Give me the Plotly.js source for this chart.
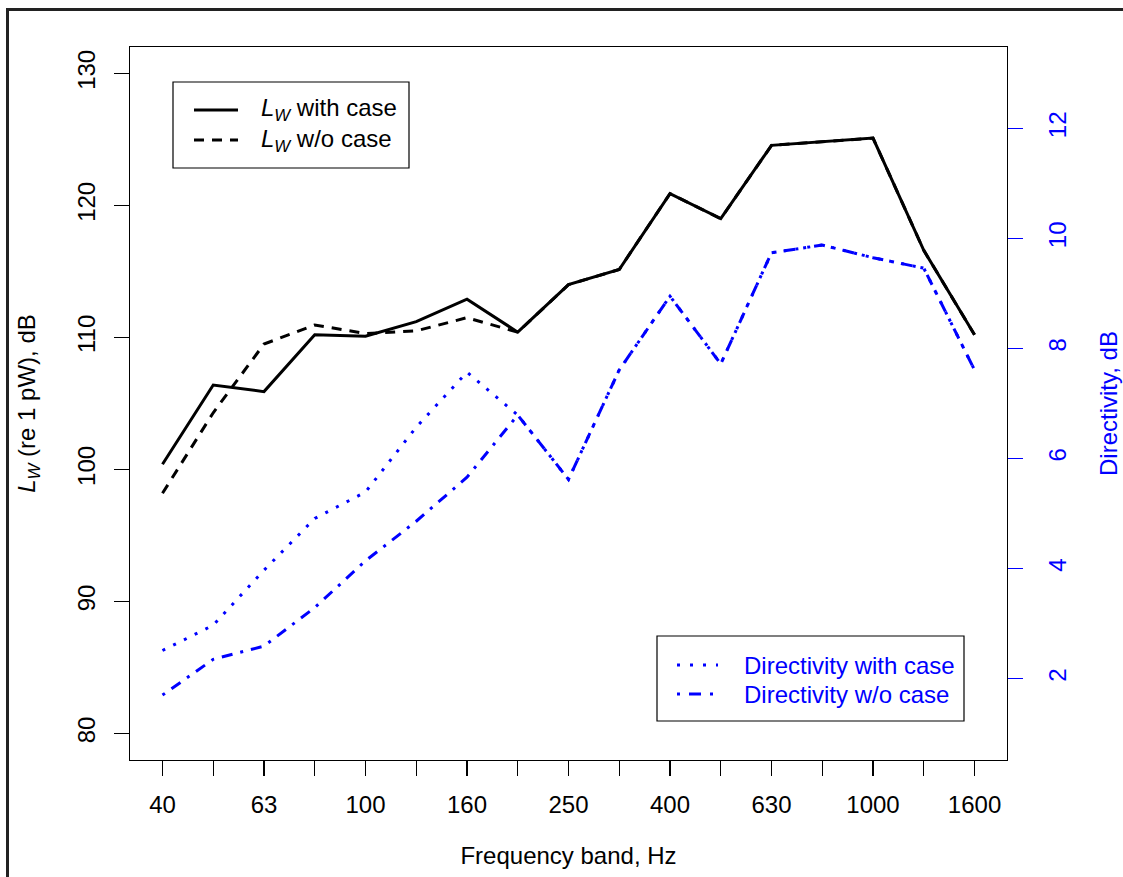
<!DOCTYPE html>
<html>
<head>
<meta charset="utf-8">
<script src="https://cdn.plot.ly/plotly-3.0.1.min.js"></script>
<style>
  html, body { margin: 0; padding: 0; background: #fff; }
  #wrap { position: relative; width: 1123px; height: 877px; overflow: hidden; }
  #chart { position: absolute; left: 0; top: 0; width: 1123px; height: 877px; }
  #frame { position: absolute; left: 6px; top: 8px; width: 1300px; height: 1000px;
           border-left: 3px solid #222; border-top: 3px solid #222; pointer-events: none; z-index: 5; }
</style>
</head>
<body>
<div id="wrap">
  <div id="chart"></div>
  <div id="frame"></div>
</div>
<script>
// ---- data ----
const bands = ["40","50","63","80","100","125","160","200","250","315","400","500","630","800","1000","1250","1600"];
const tickLabels = ["40","63","100","160","250","400","630","1000","1600"];
const lwWithCase = [100.4, 106.4, 105.9, 110.2, 110.1, 111.2, 112.9, 110.4, 114.0, 115.15, 120.9, 119.0, 124.55, 124.85, 125.1, 116.6, 110.2];
const lwWithoutCase = [98.2, 104.3, 109.5, 110.95, 110.3, 110.5, 111.5, 110.4, 114.0, 115.15, 120.9, 119.0, 124.55, 124.85, 125.1, 116.6, 110.2];
const dirWithCase = [2.51, 2.97, 3.97, 4.91, 5.39, 6.57, 7.57, 6.79, 5.62, 7.61, 8.95, 7.72, 9.74, 9.88, 9.65, 9.46, 7.61];
const dirWithoutCase = [1.70, 2.35, 2.59, 3.29, 4.14, 4.86, 5.66, 6.79, 5.62, 7.61, 8.95, 7.72, 9.74, 9.88, 9.65, 9.46, 7.61];
const lwTicks = [80, 90, 100, 110, 120, 130];
const dirTicks = [2, 4, 6, 8, 10, 12];
// bands that get a tick mark but no label
const unlabeledBands = bands.filter(b => !tickLabels.includes(b));

// ---- styles ----
const FONT = "Liberation Sans, Arial, Helvetica, sans-serif";
const BLUE = "#0000ff";
const DASH = "10px,8px";
const DOT = "3px,9px";
const DASHDOT = "3px,8px,11px,8px";

const traces = [
  { x: bands, y: lwWithCase, type: "scatter", mode: "lines", name: "L_W with case",
    line: { color: "#000", width: 3 }, xaxis: "x", yaxis: "y", showlegend: false },
  { x: bands, y: lwWithoutCase, type: "scatter", mode: "lines", name: "L_W w/o case",
    line: { color: "#000", width: 3, dash: DASH }, xaxis: "x", yaxis: "y", showlegend: false },
  { x: bands, y: dirWithCase, type: "scatter", mode: "lines", name: "Directivity with case",
    line: { color: BLUE, width: 3, dash: DOT }, xaxis: "x2", yaxis: "y2", showlegend: false },
  { x: bands, y: dirWithoutCase, type: "scatter", mode: "lines", name: "Directivity w/o case",
    line: { color: BLUE, width: 3, dash: DASHDOT }, xaxis: "x2", yaxis: "y2", showlegend: false }
];

// plot area in px: x 130..1007, y 47..760
const L = 130, T = 47, W = 877, H = 713;
const px = v => (v - L) / W;
const py = v => (T + H - v) / H;

const shapes = [
  // legend 1 box + samples
  { type: "rect", xref: "paper", yref: "paper", x0: px(173), x1: px(409), y0: py(168), y1: py(82),
    line: { color: "#000", width: 1.2 }, fillcolor: "rgba(0,0,0,0)" },
  { type: "line", xref: "paper", yref: "paper", x0: px(194), x1: px(238), y0: py(110), y1: py(110),
    line: { color: "#000", width: 3 } },
  { type: "line", xref: "paper", yref: "paper", x0: px(194), x1: px(238), y0: py(140), y1: py(140),
    line: { color: "#000", width: 3, dash: DASH } },
  // legend 2 box + samples
  { type: "rect", xref: "paper", yref: "paper", x0: px(657), x1: px(964), y0: py(721), y1: py(636),
    line: { color: "#000", width: 1.2 }, fillcolor: "rgba(0,0,0,0)" },
  { type: "line", xref: "paper", yref: "paper", x0: px(677), x1: px(718), y0: py(665), y1: py(665),
    line: { color: BLUE, width: 3, dash: "3px,10px" } },
  { type: "line", xref: "paper", yref: "paper", x0: px(677), x1: px(719), y0: py(694), y1: py(694),
    line: { color: BLUE, width: 3, dash: "3px,9px,12px,9px" } }
];

const annotations = [
  { xref: "paper", yref: "paper", x: px(259), y: py(110), xanchor: "left", yanchor: "middle", showarrow: false,
    text: "<i>L</i><sub><i>W</i></sub> with case", font: { family: FONT, size: 24, color: "#000" } },
  { xref: "paper", yref: "paper", x: px(259), y: py(140), xanchor: "left", yanchor: "middle", showarrow: false,
    text: "<i>L</i><sub><i>W</i></sub> w/o case", font: { family: FONT, size: 24, color: "#000" } },
  { xref: "paper", yref: "paper", x: px(742), y: py(665), xanchor: "left", yanchor: "middle", showarrow: false,
    text: "Directivity with case", font: { family: FONT, size: 24, color: BLUE } },
  { xref: "paper", yref: "paper", x: px(742), y: py(694), xanchor: "left", yanchor: "middle", showarrow: false,
    text: "Directivity w/o case", font: { family: FONT, size: 24, color: BLUE } }
];

const XRANGE = [-0.64, 16.64];

const layout = {
  width: 1123, height: 877,
  margin: { l: 130, r: 116, t: 47, b: 117, pad: 0 },
  paper_bgcolor: "#fff", plot_bgcolor: "#fff",
  font: { family: FONT, size: 24, color: "#000" },
  showlegend: false,
  xaxis: {
    type: "category", categoryorder: "array", categoryarray: bands,
    range: XRANGE, autorange: false,
    tickmode: "array", tickvals: tickLabels, ticktext: tickLabels,
    ticks: "outside", ticklen: 15, tickwidth: 1.2, tickcolor: "#000",
    showline: true, linecolor: "#000", linewidth: 1.2, mirror: true,
    showgrid: false, zeroline: false, ticklabelstandoff: 8,
    tickfont: { family: FONT, size: 24, color: "#000" },
    title: { text: "Frequency band, Hz", font: { family: FONT, size: 24, color: "#000" }, standoff: 30 }
  },
  xaxis2: {
    type: "category", categoryorder: "array", categoryarray: bands,
    overlaying: "x", anchor: "y", side: "bottom",
    range: XRANGE, autorange: false,
    tickmode: "array", tickvals: unlabeledBands,
    ticks: "outside", ticklen: 15, tickwidth: 1.2, tickcolor: "#000",
    showticklabels: false, showline: false, showgrid: false, zeroline: false
  },
  yaxis: {
    range: [78, 132], autorange: false, anchor: "x",
    tickmode: "array", tickvals: lwTicks, ticktext: lwTicks.map(String),
    ticks: "outside", ticklen: 15, tickwidth: 1.2, tickcolor: "#000", tickangle: -90,
    showline: true, linecolor: "#000", linewidth: 1.2, mirror: true,
    showgrid: false, zeroline: false, ticklabelstandoff: 9,
    tickfont: { family: FONT, size: 24, color: "#000" },
    title: { text: "<i>L</i><sub><i>W</i></sub> (re 1 pW), dB", font: { family: FONT, size: 24, color: "#000" }, standoff: 30 }
  },
  yaxis2: {
    overlaying: "y", side: "right", anchor: "x2",
    range: [0.52, 13.48], autorange: false,
    tickmode: "array", tickvals: dirTicks, ticktext: dirTicks.map(String),
    ticks: "outside", ticklen: 15, tickwidth: 1.2, tickcolor: BLUE, tickangle: -90,
    showline: false, showgrid: false, zeroline: false, ticklabelstandoff: 14,
    tickfont: { family: FONT, size: 24, color: BLUE },
    title: { text: "Directivity, dB", font: { family: FONT, size: 24, color: BLUE }, standoff: 30 }
  },
  shapes: shapes,
  annotations: annotations
};

Plotly.newPlot("chart", traces, layout, { displayModeBar: false, staticPlot: true });
</script>
</body>
</html>
